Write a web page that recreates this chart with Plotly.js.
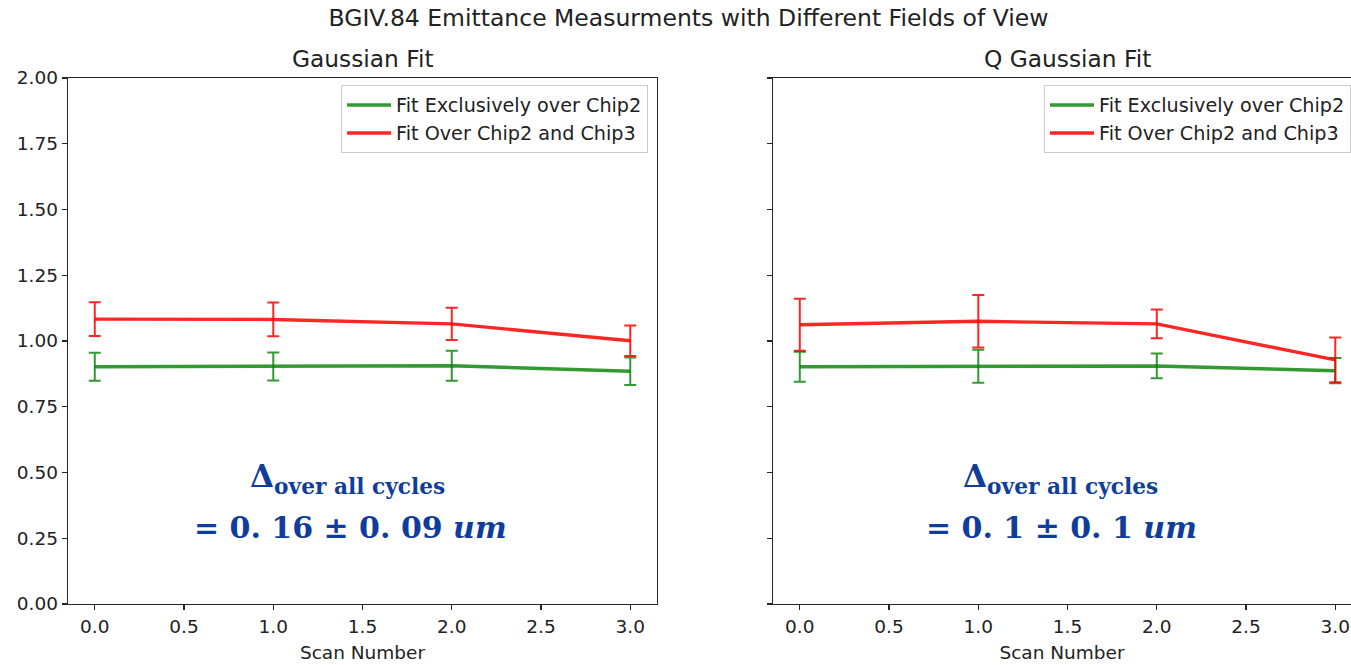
<!DOCTYPE html>
<html><head><meta charset="utf-8">
<script src="https://cdn.plot.ly/plotly-3.0.1.min.js"></script>
<style>html,body{margin:0;padding:0;background:#fff;}#chart{width:1351px;height:665px;}</style>
</head><body><div id="chart"></div><script>
// ---- data ----
const scanNumbers = [0, 1, 2, 3];
const gaussChip2 = [0.902, 0.903, 0.906, 0.885];
const gaussChip2Err = [0.053, 0.053, 0.057, 0.052];
const gaussChip23 = [1.083, 1.082, 1.065, 1.001];
const gaussChip23Err = [0.064, 0.064, 0.061, 0.058];
const qgaussChip2 = [0.902, 0.904, 0.905, 0.887];
const qgaussChip2Err = [0.057, 0.063, 0.047, 0.048];
const qgaussChip23 = [1.062, 1.075, 1.065, 0.928];
const qgaussChip23Err = [0.099, 0.100, 0.055, 0.085];
const seriesNames = ['Fit Exclusively over Chip2', 'Fit Over Chip2 and Chip3'];
const panelTitles = ['Gaussian Fit', 'Q Gaussian Fit'];
const mainTitle = 'BGIV.84 Emittance Measurments with Different Fields of View';
const xLabel = 'Scan Number';
const xTickVals = [0, 0.5, 1, 1.5, 2, 2.5, 3];
const yTickVals = [0, 0.25, 0.5, 0.75, 1, 1.25, 1.5, 1.75, 2];
const deltaLabel = 'Δ<sub>over all cycles</sub>';
const deltaValues = ['= 0. 16 ± 0. 09 <i>um</i>', '= 0. 1 ± 0. 1 <i>um</i>'];

const GREEN = 'rgba(0,128,0,0.8)';
const RED = 'rgba(255,0,0,0.85)';
const TXT = '#222222';
const AX = '#262626';
const BLUE = '#0f3d9c';

function tr(y, err, name, color, xa, ya, leg) {
  return {
    x: scanNumbers, y: y, type: 'scatter', mode: 'lines', name: name,
    xaxis: xa, yaxis: ya, legend: leg,
    line: {color: color, width: 3.4},
    error_y: {type: 'data', array: err, visible: true, color: color, thickness: 2, width: 6}
  };
}

const data = [
  tr(gaussChip2, gaussChip2Err, seriesNames[0], GREEN, 'x', 'y', 'legend'),
  tr(gaussChip23, gaussChip23Err, seriesNames[1], RED, 'x', 'y', 'legend'),
  tr(qgaussChip2, qgaussChip2Err, seriesNames[0], GREEN, 'x2', 'y2', 'legend2'),
  tr(qgaussChip23, qgaussChip23Err, seriesNames[1], RED, 'x2', 'y2', 'legend2')
];

const tickFont = {family: 'DejaVu Sans', size: 18.5, color: TXT};
const baseX = {
  tickvals: xTickVals, tickformat: '.1f', ticks: 'outside', ticklen: 5, tickwidth: 1.2,
  tickcolor: AX, showline: true, linecolor: AX, linewidth: 1.3, mirror: true,
  showgrid: false, zeroline: false, tickfont: tickFont,
  title: {text: xLabel, font: {family: 'DejaVu Sans', size: 18.5, color: TXT}, standoff: 10}
};
const baseY = {
  range: [0, 2], tickvals: yTickVals, tickformat: '.2f', ticks: 'outside', ticklen: 5,
  tickwidth: 1.2, tickcolor: AX, showline: true, linecolor: AX, linewidth: 1.3,
  showgrid: false, zeroline: false, tickfont: tickFont
};

const legendBase = {
  bgcolor: 'rgba(255,255,255,0.8)', bordercolor: '#cccccc', borderwidth: 1,
  font: {family: 'DejaVu Sans', size: 19.2, color: TXT},
  xref: 'paper', yref: 'paper', xanchor: 'right', yanchor: 'top', y: 0.9867,
  tracegroupgap: 0, itemwidth: 44
};

const annFont = (s) => ({family: 'DejaVu Serif', size: s, color: BLUE, weight: 700});

const layout = {
  width: 1351, height: 665,
  margin: {l: 68, r: 0, t: 78, b: 61, pad: 0},
  paper_bgcolor: '#ffffff', plot_bgcolor: '#ffffff',
  showlegend: true,
  title: {text: mainTitle, x: 0.5096, xref: 'container', xanchor: 'center',
          y: 0.973, yref: 'container', yanchor: 'middle',
          font: {family: 'DejaVu Sans', size: 23.5, color: TXT}},
  xaxis: Object.assign({}, baseX, {domain: [0, 0.4591], range: [-0.15, 3.15], anchor: 'y'}),
  yaxis: Object.assign({}, baseY, {domain: [0, 1], anchor: 'x', mirror: true}),
  xaxis2: Object.assign({}, baseX, {domain: [0.5495, 1], range: [-0.15, 3.088], anchor: 'y2'}),
  yaxis2: Object.assign({}, baseY, {domain: [0, 1], anchor: 'x2', mirror: false, showticklabels: false}),
  legend: Object.assign({}, legendBase, {x: 0.4521}),
  legend2: Object.assign({}, legendBase, {x: 1.0}),
  annotations: [
    {text: panelTitles[0], xref: 'paper', yref: 'paper', x: 0.2297, y: 1.038,
     xanchor: 'center', yanchor: 'middle', showarrow: false,
     font: {family: 'DejaVu Sans', size: 23.3, color: TXT}},
    {text: panelTitles[1], xref: 'paper', yref: 'paper', x: 0.7794, y: 1.038,
     xanchor: 'center', yanchor: 'middle', showarrow: false,
     font: {family: 'DejaVu Sans', size: 23.3, color: TXT}},
    {text: deltaLabel, xref: 'x', yref: 'y', x: 1.418, y: 0.479,
     xanchor: 'center', yanchor: 'middle', showarrow: false, font: annFont(31)},
    {text: deltaValues[0], xref: 'x', yref: 'y', x: 1.43, y: 0.289,
     xanchor: 'center', yanchor: 'middle', showarrow: false, font: annFont(30)},
    {text: deltaLabel, xref: 'x2', yref: 'y2', x: 1.463, y: 0.479,
     xanchor: 'center', yanchor: 'middle', showarrow: false, font: annFont(31)},
    {text: deltaValues[1], xref: 'x2', yref: 'y2', x: 1.466, y: 0.289,
     xanchor: 'center', yanchor: 'middle', showarrow: false, font: annFont(30)}
  ]
};

Plotly.newPlot('chart', data, layout, {displayModeBar: false, staticPlot: true});
</script></body></html>
